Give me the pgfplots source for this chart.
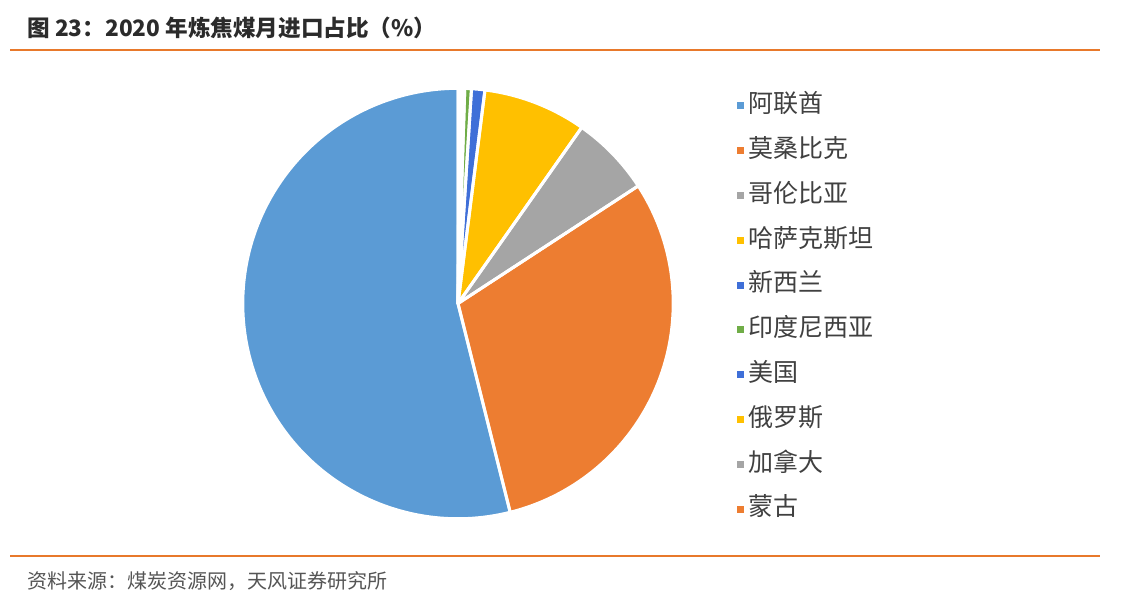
\documentclass[border=0pt]{standalone}
\usepackage{pgfplots}
\usepackage{pgfplotstable}
\pgfplotsset{compat=1.18}
\usepackage{fontspec}
\setmainfont{Noto Sans CJK SC}

% palette
\definecolor{p1}{HTML}{5B9BD5}
\definecolor{p2}{HTML}{ED7D31}
\definecolor{p3}{HTML}{A5A5A5}
\definecolor{p4}{HTML}{FFC000}
\definecolor{p5}{HTML}{3F6FD8}
\definecolor{p6}{HTML}{70AD47}
\definecolor{rulecol}{HTML}{E8792B}
\definecolor{titlecol}{HTML}{2B2B2B}
\definecolor{legtext}{HTML}{404040}
\definecolor{notecol}{HTML}{555555}

% share in %, clockwise from 12 o'clock; c = palette index
\pgfplotstableread{
share c
0.1   1
0.1   2
0.1   3
0.1   4
0.1   5
0.5   6
1.0   5
7.75  4
6.05  3
30.3  2
53.9  1
}\pietable
\pgfplotstablecreatecol[expr accum={\pgfmathaccuma+\thisrow{share}}{0}]{cum}\pietable

\pgfdeclareplotmark{nothing}{}
\def\pieR{107.6pt}

\begin{document}
\begin{tikzpicture}
\useasboundingbox (0pt,0pt) rectangle (565pt,305pt);

\node[anchor=west, text=titlecol, font=\fontsize{11.3}{13}\selectfont\bfseries, inner sep=0pt]
  at (13.5pt,291pt) {图 23：2020 年炼焦煤月进口占比（\%）};
\draw[rulecol, line width=1pt] (5pt,280pt) -- (550pt,280pt);
\draw[rulecol, line width=1pt] (5pt,27pt) -- (550pt,27pt);
\node[anchor=west, text=notecol, font=\fontsize{10}{12}\selectfont, inner sep=0pt]
  at (13.5pt,14.5pt) {资料来源：煤炭资源网，天风证券研究所};

\begin{axis}[
  at={(229pt,153.25pt)}, anchor=origin,
  hide axis, scale only axis, width=215pt, height=215pt,
  xmin=-1, xmax=1, ymin=-1, ymax=1,
  clip=false,
  legend cell align=left,
  legend image code/.code={\fill[#1] (-1.2pt,-1.85pt) rectangle (2.3pt,1.65pt);},
  legend style={at={(1.135,0.996)}, anchor=north west, draw=none, fill=none,
    font=\fontsize{12.5}{14}\selectfont, text=legtext, row sep=11.4pt,
    nodes={inner ysep=0pt, inner xsep=2pt, text height=9pt, text depth=2pt}},
]
% fills
\addplot[scatter, only marks, mark=nothing, point meta=\coordindex,
  visualization depends on={\thisrow{cum} \as \pieCum},
  visualization depends on={\thisrow{share} \as \pieShare},
  visualization depends on={\thisrow{c} \as \pieCol},
  scatter/@pre marker code/.code={
    \pgfmathsetmacro\pieEnd{90-3.6*\pieCum}
    \pgfmathsetmacro\pieStart{\pieEnd+3.6*\pieShare}
    \pgfmathtruncatemacro\pieIdx{\pieCol}
    \fill[p\pieIdx] (0pt,0pt) -- (\pieStart:\pieR) arc[start angle=\pieStart, end angle=\pieEnd, radius=\pieR] -- cycle;
  },
  scatter/@post marker code/.code={},
  forget plot]
  table[x expr=0, y expr=0] {\pietable};
% white borders
\addplot[scatter, only marks, mark=nothing, point meta=\coordindex,
  visualization depends on={\thisrow{cum} \as \pieCum},
  visualization depends on={\thisrow{share} \as \pieShare},
  scatter/@pre marker code/.code={
    \pgfmathsetmacro\pieEnd{90-3.6*\pieCum}
    \pgfmathsetmacro\pieStart{\pieEnd+3.6*\pieShare}
    \draw[white, line width=1.5pt, line join=round] (0pt,0pt) -- (\pieStart:\pieR) arc[start angle=\pieStart, end angle=\pieEnd, radius=\pieR] -- cycle;
  },
  scatter/@post marker code/.code={},
  forget plot]
  table[x expr=0, y expr=0] {\pietable};

\addlegendimage{fill=p1, draw=none} \addlegendentry{阿联酋}
\addlegendimage{fill=p2, draw=none} \addlegendentry{莫桑比克}
\addlegendimage{fill=p3, draw=none} \addlegendentry{哥伦比亚}
\addlegendimage{fill=p4, draw=none} \addlegendentry{哈萨克斯坦}
\addlegendimage{fill=p5, draw=none} \addlegendentry{新西兰}
\addlegendimage{fill=p6, draw=none} \addlegendentry{印度尼西亚}
\addlegendimage{fill=p5, draw=none} \addlegendentry{美国}
\addlegendimage{fill=p4, draw=none} \addlegendentry{俄罗斯}
\addlegendimage{fill=p3, draw=none} \addlegendentry{加拿大}
\addlegendimage{fill=p2, draw=none} \addlegendentry{蒙古}
\end{axis}
\end{tikzpicture}
\end{document}
